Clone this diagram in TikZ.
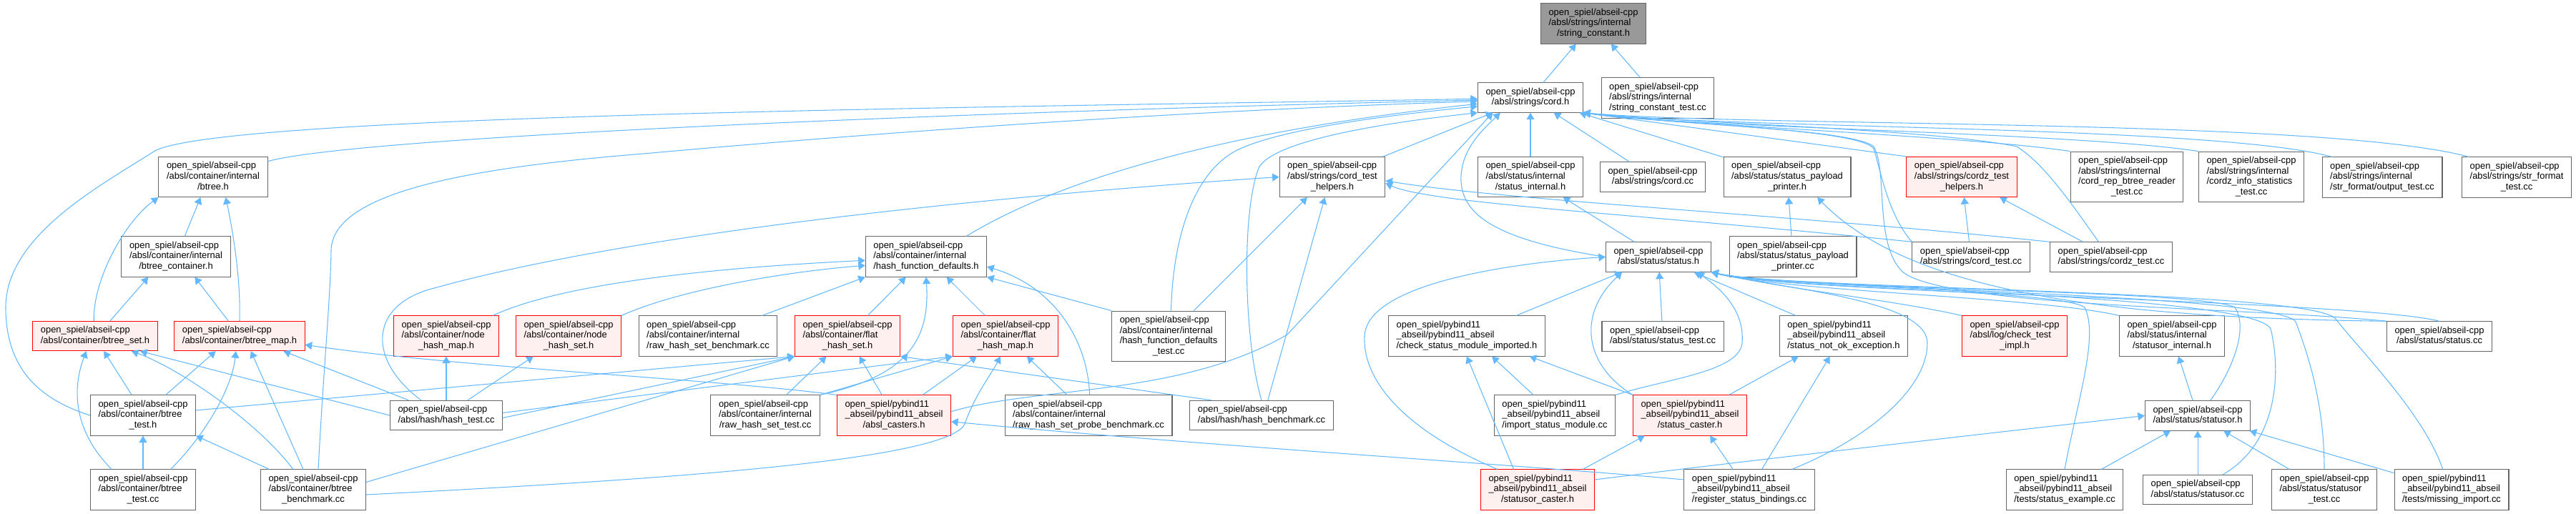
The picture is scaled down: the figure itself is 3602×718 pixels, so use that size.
\documentclass[tikz,border=0pt]{standalone}
\usepackage{fontspec}
\setmainfont{Liberation Sans}
\usepackage{tikz}
\usetikzlibrary{arrows.meta}
\definecolor{edgeblue}{HTML}{63B8FF}
\definecolor{boxgray}{HTML}{666666}
\definecolor{rootgray}{HTML}{999999}
\definecolor{hotfill}{HTML}{FFF0F0}
\newcommand{\filelbl}[2]{\begin{tabular}{@{}l@{}}#1\\\multicolumn{1}{@{}c@{}}{#2}\end{tabular}}

\begin{document}
\begin{tikzpicture}[>={Triangle[length=1.9mm,width=2.2mm]}, x=0.2mm, y=-0.2mm]
    \tikzset{filebox/.style={draw=boxgray, fill=white, line width=0.6pt, inner xsep=6.3pt, inner ysep=3.4pt, font=\fontsize{7.35}{8.37}\selectfont},
        redbox/.style={filebox, draw=red, fill=hotfill},
        rootbox/.style={filebox, fill=rootgray},
        incl/.style={->, draw=edgeblue, line width=0.6pt}
    }
    \useasboundingbox (0,0) rectangle (3602,718);

    \node (StringConstant) [rootbox] at (2228,33) {\filelbl{open\_spiel/abseil-cpp\\/absl/strings/internal}{/string\_constant.h}};
    \node (Cord) [filebox] at (2140,136.5) {\filelbl{open\_spiel/abseil-cpp}{/absl/strings/cord.h}};
    \node (StringConstantTest) [filebox] at (2318,137) {\filelbl{open\_spiel/abseil-cpp\\/absl/strings/internal}{/string\_constant\_test.cc}};

    \node (Btree) [filebox] at (298,247.5) {\filelbl{open\_spiel/abseil-cpp\\/absl/container/internal}{/btree.h}};
    \node (CordTestHelpers) [filebox] at (1863,247.5) {\filelbl{open\_spiel/abseil-cpp\\/absl/strings/cord\_test}{\_helpers.h}};
    \node (StatusInternal) [filebox] at (2140,247.5) {\filelbl{open\_spiel/abseil-cpp\\/absl/status/internal}{/status\_internal.h}};
    \node (CordCc) [filebox] at (2311,247.5) {\filelbl{open\_spiel/abseil-cpp}{/absl/strings/cord.cc}};
    \node (PayloadPrinter) [filebox] at (2499,247.5) {\filelbl{open\_spiel/abseil-cpp\\/absl/status/status\_payload}{\_printer.h}};
    \node (CordzTestHelpers) [redbox] at (2743,247.5) {\filelbl{open\_spiel/abseil-cpp\\/absl/strings/cordz\_test}{\_helpers.h}};
    \node (RepReaderTest) [filebox] at (2974,247.5) {\filelbl{open\_spiel/abseil-cpp\\/absl/strings/internal\\/cord\_rep\_btree\_reader}{\_test.cc}};
    \node (CordzStatsTest) [filebox] at (3148,247.5) {\filelbl{open\_spiel/abseil-cpp\\/absl/strings/internal\\/cordz\_info\_statistics}{\_test.cc}};
    \node (OutputTest) [filebox] at (3331,248) {\filelbl{open\_spiel/abseil-cpp\\/absl/strings/internal}{/str\_format/output\_test.cc}};
    \node (StrFormatTest) [filebox] at (3519,248) {\filelbl{open\_spiel/abseil-cpp\\/absl/strings/str\_format}{\_test.cc}};

    \node (BtreeContainer) [filebox] at (246,359) {\filelbl{open\_spiel/abseil-cpp\\/absl/container/internal}{/btree\_container.h}};
    \node (HashDefaults) [filebox] at (1295,359) {\filelbl{open\_spiel/abseil-cpp\\/absl/container/internal}{/hash\_function\_defaults.h}};
    \node (Status) [filebox] at (2319,359.5) {\filelbl{open\_spiel/abseil-cpp}{/absl/status/status.h}};
    \node (PayloadPrinterCc) [filebox] at (2507,359) {\filelbl{open\_spiel/abseil-cpp\\/absl/status/status\_payload}{\_printer.cc}};
    \node (CordTest) [filebox] at (2756,359.5) {\filelbl{open\_spiel/abseil-cpp}{/absl/strings/cord\_test.cc}};
    \node (CordzTest) [filebox] at (2952,359.5) {\filelbl{open\_spiel/abseil-cpp}{/absl/strings/cordz\_test.cc}};

    \node (BtreeSet) [redbox] at (133,470) {\filelbl{open\_spiel/abseil-cpp}{/absl/container/btree\_set.h}};
    \node (BtreeMap) [redbox] at (335,470) {\filelbl{open\_spiel/abseil-cpp}{/absl/container/btree\_map.h}};
    \node (NodeHashMap) [redbox] at (624,470) {\filelbl{open\_spiel/abseil-cpp\\/absl/container/node}{\_hash\_map.h}};
    \node (NodeHashSet) [redbox] at (795,470) {\filelbl{open\_spiel/abseil-cpp\\/absl/container/node}{\_hash\_set.h}};
    \node (RawSetBench) [filebox] at (990,470) {\filelbl{open\_spiel/abseil-cpp\\/absl/container/internal}{/raw\_hash\_set\_benchmark.cc}};
    \node (FlatHashSet) [redbox] at (1185,470) {\filelbl{open\_spiel/abseil-cpp\\/absl/container/flat}{\_hash\_set.h}};
    \node (FlatHashMap) [redbox] at (1406,470) {\filelbl{open\_spiel/abseil-cpp\\/absl/container/flat}{\_hash\_map.h}};
    \node (HashDefaultsTest) [filebox] at (1634,470.5) {\filelbl{open\_spiel/abseil-cpp\\/absl/container/internal\\/hash\_function\_defaults}{\_test.cc}};
    \node (CheckImported) [filebox] at (2051,470) {\filelbl{open\_spiel/pybind11\\\_abseil/pybind11\_abseil}{/check\_status\_module\_imported.h}};
    \node (StatusTest) [filebox] at (2325,470.5) {\filelbl{open\_spiel/abseil-cpp}{/absl/status/status\_test.cc}};
    \node (NotOkException) [filebox] at (2578,470) {\filelbl{open\_spiel/pybind11\\\_abseil/pybind11\_abseil}{/status\_not\_ok\_exception.h}};
    \node (CheckTestImpl) [redbox] at (2817,470) {\filelbl{open\_spiel/abseil-cpp\\/absl/log/check\_test}{\_impl.h}};
    \node (StatusorInternal) [filebox] at (3037,470) {\filelbl{open\_spiel/abseil-cpp\\/absl/status/internal}{/statusor\_internal.h}};
    \node (StatusCc) [filebox] at (3411,470.5) {\filelbl{open\_spiel/abseil-cpp}{/absl/status/status.cc}};

    \node (BtreeTestH) [filebox] at (200,581) {\filelbl{open\_spiel/abseil-cpp\\/absl/container/btree}{\_test.h}};
    \node (HashTest) [filebox] at (624,581) {\filelbl{open\_spiel/abseil-cpp}{/absl/hash/hash\_test.cc}};
    \node (RawSetTest) [filebox] at (1070,581) {\filelbl{open\_spiel/abseil-cpp\\/absl/container/internal}{/raw\_hash\_set\_test.cc}};
    \node (AbslCasters) [redbox] at (1250,581) {\filelbl{open\_spiel/pybind11\\\_abseil/pybind11\_abseil}{/absl\_casters.h}};
    \node (ProbeBench) [filebox] at (1522,581) {\filelbl{open\_spiel/abseil-cpp\\/absl/container/internal}{/raw\_hash\_set\_probe\_benchmark.cc}};
    \node (HashBench) [filebox] at (1764,581) {\filelbl{open\_spiel/abseil-cpp}{/absl/hash/hash\_benchmark.cc}};
    \node (ImportModule) [filebox] at (2174,581) {\filelbl{open\_spiel/pybind11\\\_abseil/pybind11\_abseil}{/import\_status\_module.cc}};
    \node (StatusCaster) [redbox] at (2363,581) {\filelbl{open\_spiel/pybind11\\\_abseil/pybind11\_abseil}{/status\_caster.h}};
    \node (Statusor) [filebox] at (3073,581.5) {\filelbl{open\_spiel/abseil-cpp}{/absl/status/statusor.h}};

    \node (BtreeTestCc) [filebox] at (200,685) {\filelbl{open\_spiel/abseil-cpp\\/absl/container/btree}{\_test.cc}};
    \node (BtreeBench) [filebox] at (438,685) {\filelbl{open\_spiel/abseil-cpp\\/absl/container/btree}{\_benchmark.cc}};
    \node (StatusorCaster) [redbox] at (2150,685) {\filelbl{open\_spiel/pybind11\\\_abseil/pybind11\_abseil}{/statusor\_caster.h}};
    \node (RegisterBindings) [filebox] at (2446,685) {\filelbl{open\_spiel/pybind11\\\_abseil/pybind11\_abseil}{/register\_status\_bindings.cc}};
    \node (StatusExample) [filebox] at (2887,685) {\filelbl{open\_spiel/pybind11\\\_abseil/pybind11\_abseil}{/tests/status\_example.cc}};
    \node (StatusorCc) [filebox] at (3073,685) {\filelbl{open\_spiel/abseil-cpp}{/absl/status/statusor.cc}};
    \node (StatusorTest) [filebox] at (3250,685) {\filelbl{open\_spiel/abseil-cpp\\/absl/status/statusor}{\_test.cc}};
    \node (MissingImport) [filebox] at (3428,685) {\filelbl{open\_spiel/pybind11\\\_abseil/pybind11\_abseil}{/tests/missing\_import.cc}};

    \foreach \src/\dst in {Cord/StringConstant, StringConstantTest/StringConstant,
        CordTestHelpers/Cord, StatusInternal/Cord, CordCc/Cord, PayloadPrinter/Cord,
        Status/StatusInternal, PayloadPrinterCc/PayloadPrinter,
        CordTest/CordzTestHelpers, CordzTest/CordzTestHelpers,
        FlatHashSet/HashDefaults, FlatHashMap/HashDefaults,
        AbslCasters/FlatHashSet, AbslCasters/FlatHashMap, ProbeBench/FlatHashMap, RawSetTest/FlatHashSet,
        HashTest/NodeHashMap, BtreeTestCc/BtreeTestH,
        CheckImported/Status, StatusTest/Status, NotOkException/Status,
        Statusor/StatusorInternal, StatusExample/Statusor, StatusorCc/Statusor, StatusorTest/Statusor, MissingImport/Statusor} {
        \draw [incl] (\src) -- (\dst);
    }

    \draw [incl] ([xshift=7pt]BtreeContainer.north) -- ([xshift=-10pt]Btree.south);
    \draw [incl] ([xshift=12pt]BtreeSet.north) -- ([xshift=-22pt]BtreeContainer.south);
    \draw [incl] ([xshift=-9pt]BtreeMap.north) -- ([xshift=15pt]BtreeContainer.south);
    \draw [incl] ([xshift=-1pt]BtreeSet.north) .. controls (130,390) and (175,310) .. (Btree.south west);
    \draw [incl] (BtreeMap.north) .. controls (337,390) and (325,320) .. ([xshift=10pt]Btree.south);
    \draw [incl] ([xshift=-9pt]BtreeTestH.north) -- ([xshift=7pt]BtreeSet.south);
    \draw [incl] ([xshift=18pt]BtreeTestH.north) -- ([xshift=-19pt]BtreeMap.south);
    \draw [incl] ([xshift=-25pt]BtreeTestCc.north) .. controls (100,600) and (102,540) .. ([xshift=-7pt]BtreeSet.south);
    \draw [incl] ([xshift=22pt]BtreeTestCc.north) .. controls (290,605) and (325,540) .. ([xshift=-3pt]BtreeMap.south);
    \draw [incl] ([xshift=-35pt]BtreeBench.north) -- (BtreeTestH.south east);
    \draw [incl] ([xshift=-16pt]BtreeBench.north) .. controls (360,590) and (250,515) .. ([xshift=29pt]BtreeSet.south);
    \draw [incl] ([xshift=-8pt]BtreeBench.north) -- ([xshift=9pt]BtreeMap.south);
    \draw [incl] (HashTest.west) -- ([xshift=-14pt]BtreeSet.south east);
    \draw [incl] ([xshift=-30pt]HashTest.north) -- ([xshift=35pt]BtreeMap.south);
    \draw [incl] ([xshift=17pt]HashTest.north) -- ([xshift=-28pt]NodeHashSet.south);

    \draw [incl] ([xshift=37pt]NodeHashMap.north) .. controls (800,390) and (1050,372) .. ([yshift=-3pt]HashDefaults.west);
    \draw [incl] (NodeHashSet.north east) .. controls (950,405) and (1100,380) .. ([yshift=-7pt]HashDefaults.west);
    \draw [incl] ([xshift=43pt]RawSetBench.north) -- (HashDefaults.south west);
    \draw [incl] (RawSetTest.north east) .. controls (1275,525) and (1300,470) .. (HashDefaults.south);
    \draw [incl] (HashDefaultsTest.north west) -- (HashDefaults.south east);
    \draw [incl] ([xshift=1pt]ProbeBench.north) .. controls (1520,470) and (1470,400) .. ([yshift=-8pt]HashDefaults.east);

    \draw [incl] (RawSetTest.north east) -- (FlatHashMap.south west);
    \draw [incl] ([yshift=4pt]BtreeTestH.east) -- (FlatHashSet.south west);
    \draw [incl] ([yshift=-2pt]HashTest.east) -- (FlatHashSet.south west);
    \draw [incl] ([yshift=2pt]HashTest.east) -- (FlatHashMap.south west);
    \draw [incl] ([yshift=6pt]BtreeBench.east) -- (FlatHashSet.south west);
    \draw [incl] ([yshift=-4pt]BtreeBench.east) .. controls (900,672) and (1340,645) .. (1350,590) .. controls (1365,550) and (1385,525) .. ([xshift=-4pt]FlatHashMap.south);
    \draw [incl] ([xshift=-40pt]HashBench.north) -- (FlatHashSet.south east);
    \draw [incl] (AbslCasters.north west) .. controls (1000,530) and (650,515) .. ([yshift=-7pt]BtreeMap.east);

    \draw [incl] (Btree) .. controls (500,190) and (1400,155) .. ([yshift=-2pt]Cord.west);
    \draw [incl] (BtreeTestH.west) .. controls (60,560) and (8,520) .. (8,430) .. controls (8,330) and (140,260) .. (215,212) .. controls (300,160) and (1400,150) .. ([yshift=-1pt]Cord.west);
    \draw [incl] ([xshift=4pt]BtreeBench.north) .. controls (452,520) and (462,420) .. (463,350) .. controls (465,270) and (650,235) .. (900,215) .. controls (1400,170) and (1800,150) .. ([yshift=-3pt]Cord.west);
    \draw [incl] ([xshift=32pt]HashDefaults.north) .. controls (1450,270) and (1650,190) .. ([yshift=-5pt]Cord.west);
    \draw [incl] ([xshift=2pt]HashDefaultsTest.north) .. controls (1640,330) and (1670,240) .. (1730,210) .. controls (1790,180) and (1950,160) .. ([yshift=-7pt]Cord.west);
    \draw [incl] (HashBench.north) .. controls (1740,480) and (1735,300) .. (1760,235) .. controls (1780,195) and (1950,170) .. (Cord.south west);
    \draw [incl] ([yshift=3pt]AbslCasters.east) .. controls (1450,540) and (1650,555) .. (1800,468) -- ([xshift=-30pt]Cord.south);
    \draw [incl] ([xshift=-20pt]HashTest.north) .. controls (515,505) and (515,430) .. (600,405) .. controls (900,320) and (1450,270) .. (CordTestHelpers.west);
    \draw [incl] ([xshift=20pt]HashDefaultsTest.north) -- ([xshift=-20pt]CordTestHelpers.south);
    \draw [incl] ([xshift=5pt]HashBench.north) -- ([xshift=-6pt]CordTestHelpers.south);

    \draw [incl] (Status.west) .. controls (2090,335) and (2040,300) .. (2043,245) .. controls (2046,205) and (2075,180) .. ([xshift=-24pt]Cord.south);
    \draw [incl] (CordzTestHelpers.north west) -- (Cord.south east);
    \draw [incl] (RepReaderTest.north west) .. controls (2750,190) and (2350,175) .. (Cord.south east);
    \draw [incl] (CordzStatsTest.north west) .. controls (2900,185) and (2350,178) .. (Cord.south east);
    \draw [incl] ([xshift=-40pt]OutputTest.north) .. controls (3100,175) and (2400,180) .. (Cord.south east);
    \draw [incl] ([xshift=-38pt]StrFormatTest.north) .. controls (3250,165) and (2450,178) .. (Cord.south east);
    \draw [incl] (CordTest.north west) .. controls (2640,300) and (2630,240) .. (2620,208) .. controls (2600,180) and (2350,175) .. (Cord.south east);
    \draw [incl] ([xshift=-10pt]CordzTest.north) .. controls (2900,290) and (2860,230) .. (2820,205) .. controls (2700,180) and (2350,172) .. (Cord.south east);
    \draw [incl] (StatusCc.north west) .. controls (3150,430) and (2720,430) .. (2660,380) .. controls (2620,340) and (2640,240) .. (2620,205) .. controls (2590,180) and (2350,175) .. (Cord.south east);
    \draw [incl] (CordTest.north west) .. controls (2300,300) and (2000,285) .. ([yshift=-5pt]CordTestHelpers.east);
    \draw [incl] (CordzTest.north west) .. controls (2500,300) and (2100,280) .. ([yshift=-3pt]CordTestHelpers.east);
    \draw [incl] (StatusCc.north west) .. controls (3000,445) and (2680,420) .. ([xshift=24pt]PayloadPrinter.south);

    \draw [incl] (StatusCc.north) .. controls (3300,420) and (2500,410) .. (Status.south east);
    \draw [incl] (CheckTestImpl.north west) .. controls (2650,420) and (2500,405) .. (Status.south east);
    \draw [incl] (StatusorInternal.north west) .. controls (2850,415) and (2500,408) .. (Status.south east);
    \draw [incl] (StatusExample.north) .. controls (2905,560) and (2935,470) .. (2915,430) .. controls (2880,405) and (2500,405) .. (Status.south east);
    \draw [incl] ([xshift=10pt]Statusor.north) .. controls (3120,520) and (3145,460) .. (3125,430) .. controls (3080,405) and (2500,405) .. (Status.south east);
    \draw [incl] ([xshift=20pt]StatusorCc.north) .. controls (3185,620) and (3190,520) .. (3175,460) .. controls (3150,410) and (2500,405) .. (Status.south east);
    \draw [incl] (StatusorTest.north) .. controls (3250,560) and (3225,490) .. (3210,450) .. controls (3180,410) and (2500,405) .. (Status.south east);
    \draw [incl] ([xshift=-7pt]MissingImport.north) .. controls (3390,580) and (3300,490) .. (3265,445) .. controls (3220,405) and (2500,405) .. (Status.south east);
    \draw [incl] ([xshift=34pt]RegisterBindings.north) .. controls (2620,610) and (2695,540) .. (2695,480) .. controls (2695,420) and (2500,405) .. (Status.south east);
    \draw [incl] (ImportModule.north east) .. controls (2330,530) and (2432,520) .. (2436,480) .. controls (2440,430) and (2400,400) .. ([xshift=31pt]Status.south);
    \draw [incl] (StatusCaster.north west) .. controls (2215,510) and (2205,440) .. ([xshift=-29pt]Status.south);
    \draw [incl] ([xshift=-32pt]StatusorCaster.north) .. controls (1960,600) and (1905,530) .. (1908,470) .. controls (1912,390) and (2150,365) .. (Status.west);

    \draw [incl] ([xshift=-17pt]ImportModule.north) -- ([xshift=20pt]CheckImported.south);
    \draw [incl] (StatusCaster.north west) -- ([xshift=50pt]CheckImported.south);
    \draw [incl] ([xshift=31pt]StatusCaster.north) -- ([xshift=-36pt]NotOkException.south);
    \draw [incl] ([xshift=-19pt]StatusorCaster.north) -- (CheckImported.south);
    \draw [incl] ([xshift=36pt]StatusorCaster.north) -- ([xshift=-36pt]StatusCaster.south);
    \draw [incl] ([yshift=8pt]StatusorCaster.east) .. controls (2400,650) and (2700,615) .. (Statusor.west);
    \draw [incl] ([xshift=-13pt]RegisterBindings.north) -- ([xshift=16pt]StatusCaster.south);
    \draw [incl] ([xshift=10pt]RegisterBindings.north) -- ([xshift=-11pt]NotOkException.south);
    \draw [incl] ([yshift=8pt]RegisterBindings.west) .. controls (2100,648) and (1700,625) .. ([yshift=-5pt]AbslCasters.east);
\end{tikzpicture}
\end{document}
